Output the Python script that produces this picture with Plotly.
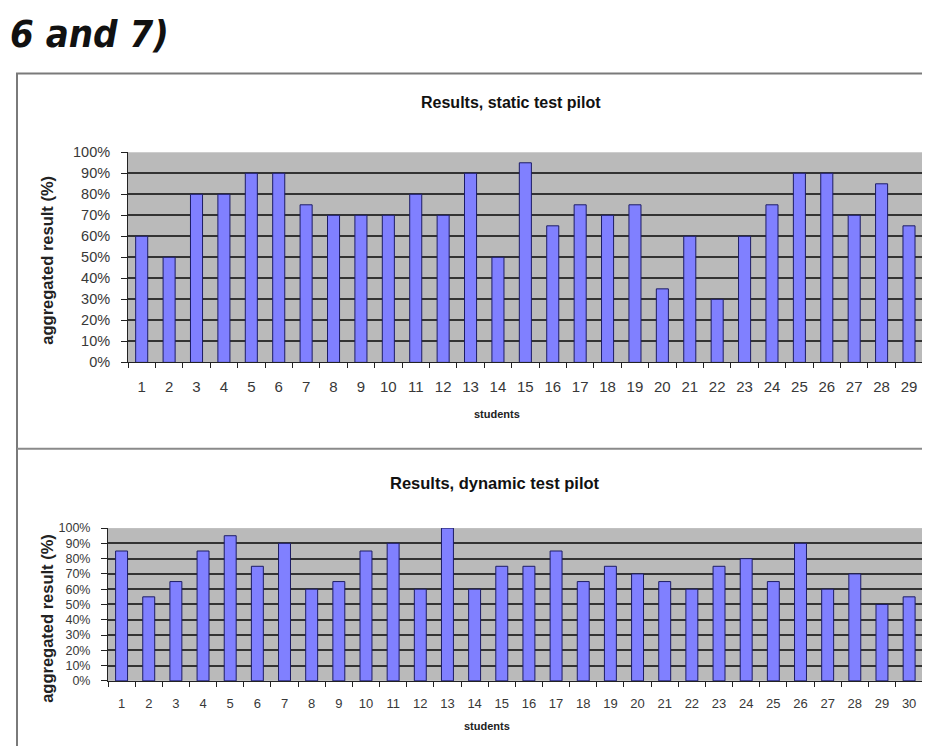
import plotly.graph_objects as go

# Screen placement of the figure (measured): x_screen = x_fig + 8,
# y_screen ~= 0.978 * y_fig + 15.5.  Positions below are given in
# screen pixels of the reference and converted.
OX = 8
SY, OY = 0.978, 15.5
FW, FH = 922, 746

students_static = [str(i) for i in range(1, 30)]
static_results = [60, 50, 80, 80, 90, 90, 75, 70, 70, 70, 80, 70, 90, 50, 95,
                  65, 75, 70, 75, 35, 60, 30, 60, 75, 90, 90, 70, 85, 65]

students_dynamic = [str(i) for i in range(1, 31)]
dynamic_results = [85, 55, 65, 85, 95, 75, 90, 60, 65, 85, 90, 60, 100, 60, 75,
                   75, 85, 65, 75, 70, 65, 60, 75, 80, 65, 90, 60, 70, 50, 55]

y_ticks = [0, 0.1, 0.2, 0.3, 0.4, 0.5, 0.6, 0.7, 0.8, 0.9, 1.0]

title_top = "Results, static test pilot"
title_bottom = "Results, dynamic test pilot"
x_title = "students"
y_title = "aggregated result (%)"
heading = "6 and 7)"

BAR = "#8080ff"
BAR_LINE = "#1c1c64"
PLOT_BG = "#bababa"
GRID = "#333333"
TXT = "#383838"
FONT = "Liberation Sans, Arial, sans-serif"


def px_x(p):
    return (p - OX) / FW


def px_y(p):
    return 1 - ((p - OY) / SY) / FH


fig = go.Figure()

fig.add_trace(go.Bar(
    x=students_static, y=[v / 100 for v in static_results],
    marker=dict(color=BAR, line=dict(color=BAR_LINE, width=1)),
    xaxis="x", yaxis="y", showlegend=False,
))
fig.add_trace(go.Bar(
    x=students_dynamic, y=[v / 100 for v in dynamic_results],
    marker=dict(color=BAR, line=dict(color=BAR_LINE, width=1)),
    xaxis="x2", yaxis="y2", showlegend=False,
))

common_x = dict(type="category", showgrid=False, showline=True, linecolor="#222",
                linewidth=1, ticks="outside", tickson="boundaries", ticklen=5,
                tickcolor="#222", zeroline=False, fixedrange=True)
common_y = dict(range=[0, 1], tickvals=y_ticks, tickformat=".0%", showgrid=True,
                gridcolor=GRID, gridwidth=1.6, showline=True, linecolor="#222",
                linewidth=1, ticks="outside", ticklen=6, tickcolor="#222",
                zeroline=False, fixedrange=True)

fig.update_layout(
    width=FW, height=FH,
    margin=dict(l=0, r=0, t=0, b=0),
    paper_bgcolor="white",
    plot_bgcolor=PLOT_BG,
    bargap=0.56,
    font=dict(family=FONT, color=TXT),
    xaxis=dict(common_x, domain=[px_x(128), min(1, px_x(922.7))], anchor="y",
               tickfont=dict(size=15, color=TXT), ticklabelstandoff=11),
    yaxis=dict(common_y, domain=[px_y(361.7), px_y(151.7)], anchor="x",
               tickfont=dict(size=14.5, color=TXT), ticklabelstandoff=8),
    xaxis2=dict(common_x, domain=[px_x(108), min(1, px_x(922.7))], anchor="y2",
                tickfont=dict(size=13, color=TXT), ticklabelstandoff=11),
    yaxis2=dict(common_y, domain=[px_y(680), px_y(527.3)], anchor="x2",
                tickfont=dict(size=12.5, color=TXT), ticklabelstandoff=8),
)

# frame
fig.add_shape(type="rect", xref="paper", yref="paper",
              x0=px_x(17), x1=px_x(960), y0=px_y(790), y1=px_y(73),
              line=dict(color="#7a7a7a", width=2), fillcolor="rgba(0,0,0,0)", layer="below")
fig.add_shape(type="line", xref="paper", yref="paper",
              x0=px_x(17), x1=px_x(960), y0=px_y(448), y1=px_y(448),
              line=dict(color="#8a8a8a", width=2))

ann = []
ann.append(dict(text=f"<b><i>{heading}</i></b>", x=0, y=px_y(33), xanchor="left",
                yanchor="middle", showarrow=False,
                font=dict(family="DejaVu Sans Condensed, DejaVu Sans", size=38, color="#111")))
ann.append(dict(text=f"<b>{title_top}</b>", x=px_x(511), y=px_y(102), xanchor="center",
                yanchor="middle", showarrow=False, font=dict(size=16, color="#111")))
ann.append(dict(text=f"<b>{title_bottom}</b>", x=px_x(495), y=px_y(482), xanchor="center",
                yanchor="middle", showarrow=False, font=dict(size=16.5, color="#111")))
ann.append(dict(text=f"<b>{x_title}</b>", x=px_x(497), y=px_y(413), xanchor="center",
                yanchor="middle", showarrow=False, font=dict(size=11, color="#222")))
ann.append(dict(text=f"<b>{x_title}</b>", x=px_x(487), y=px_y(725), xanchor="center",
                yanchor="middle", showarrow=False, font=dict(size=11, color="#222")))
ann.append(dict(text=f"<b>{y_title}</b>", x=px_x(47), y=px_y(260), xanchor="center",
                yanchor="middle", textangle=-90, showarrow=False, font=dict(size=16.5, color="#222")))
ann.append(dict(text=f"<b>{y_title}</b>", x=px_x(47), y=px_y(618), xanchor="center",
                yanchor="middle", textangle=-90, showarrow=False, font=dict(size=16.5, color="#222")))
for a in ann:
    a.update(xref="paper", yref="paper")
fig.update_layout(annotations=ann)

fig.write_html("out.html")
